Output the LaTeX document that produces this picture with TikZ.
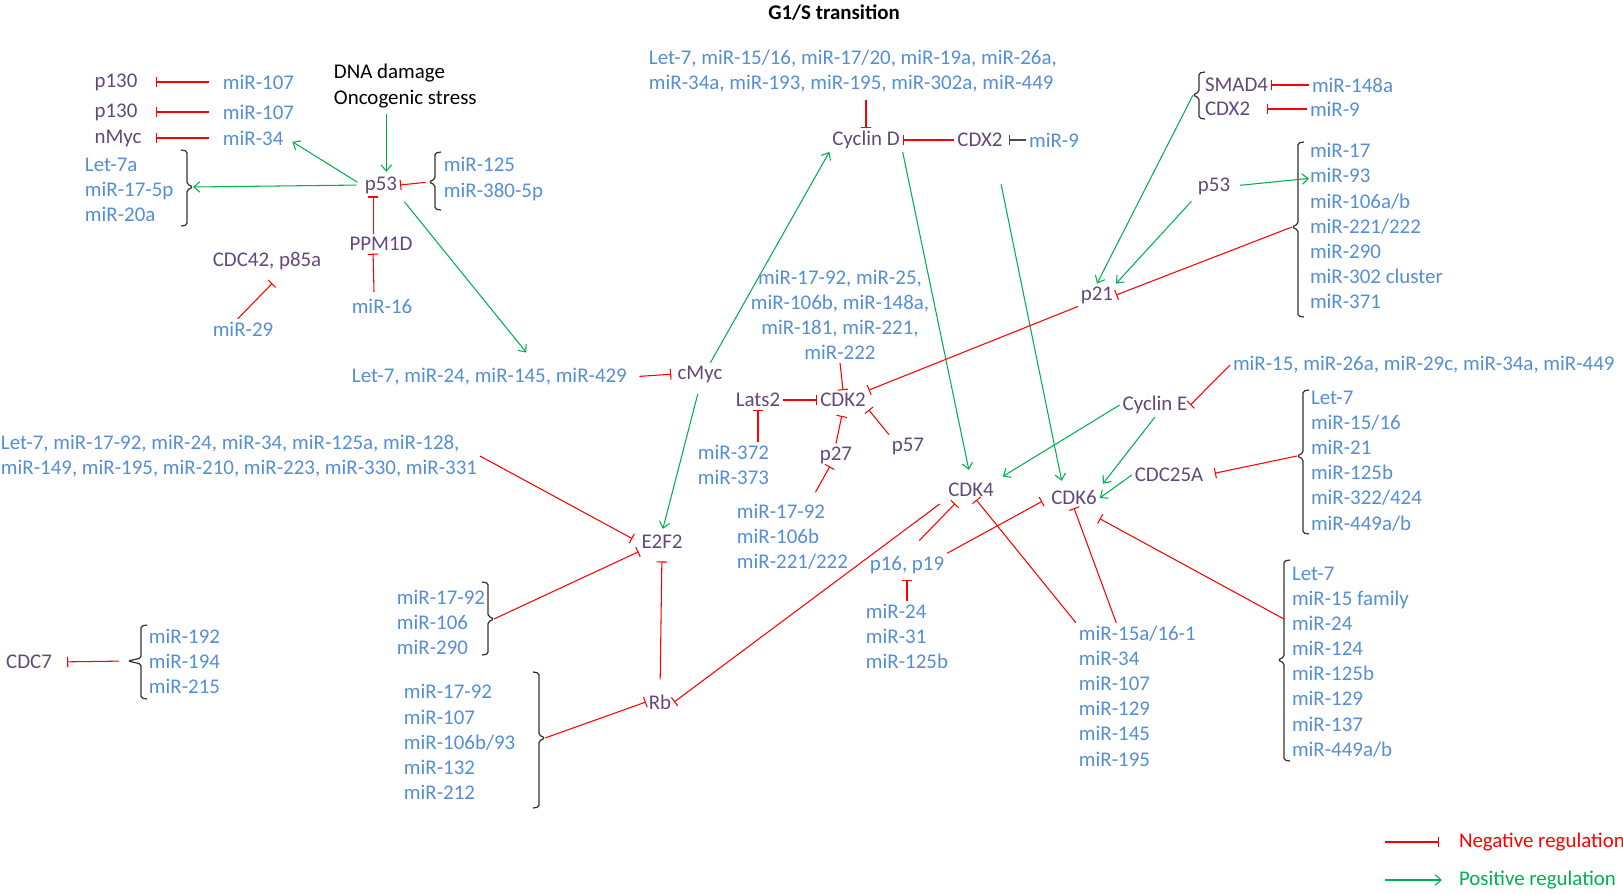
\documentclass[tikz,border=0pt]{standalone}
\usepackage{fontspec}
\setmainfont{Carlito}
\definecolor{protPurple}{RGB}{96,73,122}
\definecolor{mirBlue}{RGB}{85,142,213}
\definecolor{posGreen}{RGB}{0,176,80}
\definecolor{negRed}{RGB}{255,0,0}
\usetikzlibrary{arrows.meta,calc}
\newcommand{\diagfont}{\fontsize{11.9}{14.3}\selectfont}
% [tick]{x}{top}{bottom}{tip y}{tip name}
\newcommand{\lbrak}[6][6]{%
  \draw[brak] (#2+6,#3) -- (#2,#3+1) -- (#2,#5-3) -- (#2-#1,#5) -- (#2,#5+3) -- (#2,#4-1) -- (#2+6,#4);
  \coordinate (#6) at (#2-#1,#5);}
\newcommand{\rbrak}[6][6]{%
  \draw[brak] (#2-6,#3) -- (#2,#3+1) -- (#2,#5-3) -- (#2+#1,#5) -- (#2,#5+3) -- (#2,#4-1) -- (#2-6,#4);
  \coordinate (#6) at (#2+#1,#5);}
\begin{document}
\begin{tikzpicture}[x=0.02cm, y=-0.02cm,
  every node/.style={inner sep=1.5pt, font=\diagfont},
  prot/.style={text=protPurple},
  mir/.style={text=mirBlue},
  inh/.style={draw=negRed, line width=0.6pt, -{Bar[width=6pt]}},
  act/.style={draw=posGreen, line width=0.6pt, -{Straight Barb[length=3.5pt,width=6pt]}},
  blkinh/.style={draw=black!70, line width=0.8pt, -{Bar[width=6pt]}},
  brak/.style={draw=black!80, line width=0.7pt, rounded corners=1pt}
]
\useasboundingbox (0,0) rectangle (1623,893);

\node[font=\diagfont\bfseries] (title) at (834,13) {G1/S transition};

% p53 side
\node[prot] (p130a) at (116,82) {p130};
\node[prot] (p130b) at (116,112) {p130};
\node[prot] (nmyc) at (118,138) {nMyc};
\node[mir, anchor=west] (m107a) at (220,82) {miR-107};
\node[mir, anchor=west] (m107b) at (220,112) {miR-107};
\node[mir, anchor=west] (m34) at (220,138) {miR-34};
\node[mir, align=left, anchor=west] (let7a) at (82,190) {Let-7a\\miR-17-5p\\miR-20a};
\rbrak{187}{150}{226}{187}{let7tip}
\node[align=left, anchor=west] (dna) at (331,86) {DNA damage\\Oncogenic stress};
\node[prot] (p53) at (381,185) {p53};
\node[mir, align=left, anchor=west] (m125) at (441,179) {miR-125\\miR-380-5p};
\lbrak{435}{152}{210}{182}{m125tip}
\node[prot] (ppm) at (381,244) {PPM1D};
\node[mir] (m16) at (382,306) {miR-16};
\node[prot] (cdc42) at (267,261) {CDC42, p85a};
\node[mir] (m29) at (243,329) {miR-29};

\draw[inh, shorten <=6pt, shorten >=9pt] (m107a.west) -- (p130a.east);
\draw[inh, shorten <=6pt, shorten >=9pt] (m107b.west) -- (p130b.east);
\draw[inh, shorten <=6pt, shorten >=6.5pt] (m34.west) -- (nmyc.east);
\draw[act, shorten <=3pt, shorten >=4pt] (p53.west) -- (m34.east);
\draw[act, shorten <=3pt] (p53.west) -- (let7tip);
\draw[act, shorten <=2pt, shorten >=1pt] ([xshift=3pt]dna.south -| p53.north) -- ([xshift=3pt]p53.north);
\draw[inh, shorten <=2pt] (m125tip) -- (p53.east);
\draw[inh] ([xshift=-4.5pt]ppm.north) -- ([xshift=-4.5pt]p53.south);
\draw[inh, shorten <=2pt] ([xshift=-4.5pt]m16.north) -- ([xshift=-4.5pt]ppm.south);
\draw[inh] ([xshift=-3pt]m29.north) -- ([xshift=3pt,yshift=-6pt]cdc42.south);

% cMyc, Cyclin D
\node[mir, anchor=west] (cmyclist) at (349,377) {Let-7, miR-24, miR-145, miR-429};
\node[prot] (cmyc) at (700,374) {cMyc};
\node[mir, align=left, anchor=west] (cycdlist) at (646,71) {Let-7, miR-15/16, miR-17/20, miR-19a, miR-26a,\\miR-34a, miR-193, miR-195, miR-302a, miR-449};
\node[prot] (cycd) at (866,140) {Cyclin D};
\node[prot] (cdx2m) at (980,140) {CDX2};
\node[mir] (m9m) at (1054,140) {miR-9};

\draw[act, shorten <=4pt] (p53.south east) -- ($(cmyclist.north)+(37,-13)$);
\draw[inh, shorten <=5.5pt, shorten >=2pt] (cmyclist.east) -- (cmyc.west);
\draw[act] ([xshift=-8.5pt]cmyc.north east) -- (cycd.south west);
\draw[inh, shorten <=3pt] (cycdlist.south -| cycd.north) -- (cycd.north);
\draw[inh] (cdx2m.west) -- (cycd.east);
\draw[blkinh, shorten >=2pt] (m9m.west) -- (cdx2m.east);

% CDK2
\node[mir, align=center] (cdk2list) at (840,315) {miR-17-92, miR-25,\\miR-106b, miR-148a,\\miR-181, miR-221,\\miR-222};
\node[prot] (cdk2) at (843,400) {CDK2};
\node[prot] (lats2) at (758,400) {Lats2};
\node[mir, align=left, anchor=west] (m372) at (695,465) {miR-372\\miR-373};
\node[prot] (p27) at (836,455) {p27};
\node[prot] (p57) at (908,446) {p57};
\node[mir, align=left, anchor=west] (m1792c) at (734,537) {miR-17-92\\miR-106b\\miR-221/222};

\draw[inh] (cdk2list.south) -- (cdk2.north);
\draw[inh] (lats2.east) -- (cdk2.west);
\draw[inh] (m372.north -| lats2.south) -- (lats2.south);
\draw[inh, shorten >=3.5pt] (p27.north) -- (cdk2.south);
\draw[inh] (p57.north west) -- (cdk2.south east);
\draw[inh] ($(m1792c.north)+(23,-9)$) -- ([xshift=-3.5pt]p27.south);

% E2F2, Rb
\node[prot] (e2f2) at (662,542) {E2F2};
\node[mir, align=left, anchor=west] (e2f2list) at (-2,456) {Let-7, miR-17-92, miR-24, miR-34, miR-125a, miR-128,\\miR-149, miR-195, miR-210, miR-223, miR-330, miR-331};
\node[mir, align=left, anchor=west] (m1792b) at (394,622) {miR-17-92\\miR-106\\miR-290};
\rbrak{488}{582}{655}{619}{m1792btip}
\node[prot] (rb) at (660,702) {Rb};
\node[mir, align=left, anchor=west] (rblist) at (401,742) {miR-17-92\\miR-107\\miR-106b/93\\miR-132\\miR-212};
\rbrak{539}{672}{808}{738}{rbtip}
\node[prot] (cdc7) at (29,662) {CDC7};
\node[mir, align=left, anchor=west] (m192) at (146,661) {miR-192\\miR-194\\miR-215};
\lbrak[13]{141}{625}{699}{661}{m192tip}

\draw[act, shorten <=5pt, shorten >=2pt] (cmyc.south) -- (e2f2.north);
\draw[inh, shorten >=4pt] (e2f2list.east) -- (e2f2.west);
\draw[inh] (m1792btip) -- (e2f2.south west);
\draw[inh, shorten <=7pt, shorten >=5.5pt] (rb.north) -- (e2f2.south);
\draw[inh] (rbtip) -- (rb.west);
\draw[inh, shorten <=5pt, shorten >=7pt] (m192tip) -- (cdc7.east);

% CDK4, CDK6
\node[prot] (cdk4) at (971,490) {CDK4};
\node[prot] (cdk6) at (1074,498) {CDK6};
\node[mir] (p16) at (907,565) {p16, p19};
\node[mir, align=left, anchor=west] (m24) at (863,636) {miR-24\\miR-31\\miR-125b};
\node[mir, align=left, anchor=west] (m15a) at (1076,696) {miR-15a/16-1\\miR-34\\miR-107\\miR-129\\miR-145\\miR-195};
\node[mir, align=left, anchor=west] (m7b) at (1289,662) {Let-7\\miR-15 family\\miR-24\\miR-124\\miR-125b\\miR-129\\miR-137\\miR-449a/b};
\lbrak{1284}{560}{761}{660}{m7btip}
\coordinate (m7bjoin) at (1284,619);
\node[prot] (cyce) at (1155,405) {Cyclin E};
\node[mir, anchor=west] (cycelist) at (1230,365) {miR-15, miR-26a, miR-29c, miR-34a, miR-449};
\node[prot] (cdc25a) at (1169,475) {CDC25A};
\node[mir, align=left, anchor=west] (m7a) at (1308,461) {Let-7\\miR-15/16\\miR-21\\miR-125b\\miR-322/424\\miR-449a/b};
\lbrak{1303}{390}{534}{456}{m7atip}

\draw[act, shorten >=6pt] (cycd.south east) -- (cdk4.north);
\draw[act, shorten <=20pt] ([xshift=8pt]cdx2m.south) -- ([xshift=-7pt,yshift=4pt]cdk6.north);
\draw[inh, shorten <=4pt] (cdk4.south west) -- (rb.east);
\draw[inh, shorten <=10pt, shorten >=3pt] (p16.north) -- ([xshift=-7pt]cdk4.south);
\draw[inh, shorten >=4pt] (p16.north east) -- (cdk6.west);
\draw[inh, shorten >=2pt] (m24.north -| p16.south) -- (p16.south);
\draw[inh] (m15a.north west) -- ([xshift=3pt]cdk4.south);
\draw[inh] ([xshift=-12pt]m15a.north) -- (cdk6.south);
\draw[inh] (m7bjoin) -- ([yshift=-6pt]cdk6.south east);
\draw[act, shorten >=4pt] (cyce.west) -- (cdk4.north east);
\draw[act, shorten >=3pt] (cyce.south) -- (cdk6.north east);
\draw[inh] (cycelist.west) -- (cyce.east);
\draw[act] (cdc25a.west) -- (cdk6.east);
\draw[inh, shorten >=5pt] (m7atip) -- (cdc25a.east);

% p21
\node[prot] (p21) at (1097,295) {p21};
\node[prot, anchor=west] (smad4) at (1202,85) {SMAD4};
\node[prot, anchor=west] (cdx2r) at (1202,109) {CDX2};
\lbrak{1199}{72}{119}{95}{smadtip}
\node[mir, anchor=west] (m148a) at (1309,85) {miR-148a};
\node[mir, anchor=west] (m9r) at (1307,109) {miR-9};
\node[prot] (p53r) at (1214,186) {p53};
\node[mir, align=left, anchor=west] (m17) at (1307,226) {miR-17\\miR-93\\miR-106a/b\\miR-221/222\\miR-290\\miR-302 cluster\\miR-371};
\lbrak{1298}{142}{317}{227}{m17tip}

\draw[inh] (m148a.west) -- (smad4.east);
\draw[inh, shorten >=8pt] (m9r.west) -- (cdx2r.east);
\draw[act] (smadtip) -- (p21.north);
\draw[act, shorten <=4pt] (p53r.east) -- ($(m17.north west)+(2,38)$);
\draw[act, shorten <=3pt] (p53r.south west) -- (p21.north east);
\draw[inh] (m17tip) -- (p21.east);
\draw[inh] (p21.south west) -- (cdk2.north east);

% legend
\node[anchor=west, text=negRed] (neglab) at (1456,842) {Negative regulation};
\node[anchor=west, text=posGreen] (poslab) at (1456,880) {Positive regulation};
\coordinate (negstart) at (1385,842);
\coordinate (posstart) at (1385,880);
\draw[inh, shorten >=9.7pt] (negstart) -- (neglab.west);
\draw[act, shorten >=8pt] (posstart) -- (poslab.west);
\end{tikzpicture}
\end{document}
